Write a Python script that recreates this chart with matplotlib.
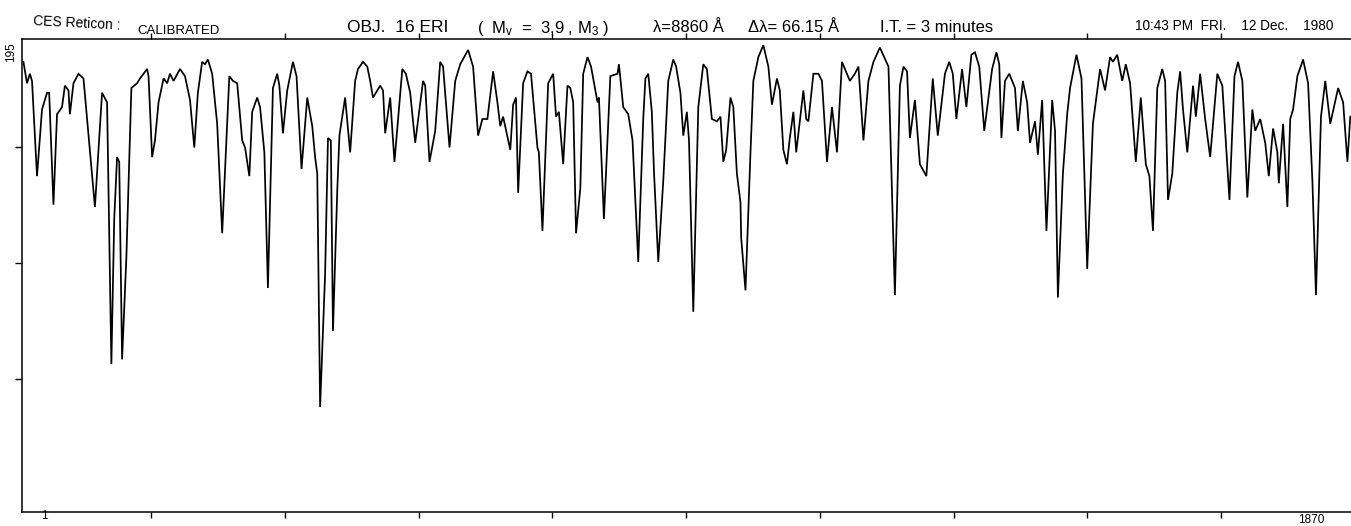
import matplotlib
matplotlib.use("Agg")
import matplotlib.pyplot as plt
import numpy as np

plt.rcParams["font.family"] = ["Liberation Sans", "DejaVu Sans"]
plt.rcParams["mathtext.fontset"] = "custom"
plt.rcParams["mathtext.rm"] = "Liberation Sans"
plt.rcParams["mathtext.it"] = "Liberation Sans"

# detector channel (1..1870) and calibrated counts
channel = [
    8, 13, 17, 20, 27, 34, 41, 44, 50, 55, 62, 66, 71, 73, 78, 85, 92, 97, 108, 118,
    125, 131, 135, 139, 142, 146, 152, 159, 167, 171, 176, 181, 183, 188, 192, 197, 204, 209, 213, 218,
    227, 234, 241, 247, 252, 258, 262, 266, 272, 279, 286, 293, 296, 301, 307, 314, 318, 324, 328, 335,
    339, 345, 350, 357, 363, 366, 371, 377, 385, 390, 397, 402, 405, 412, 416, 419, 423, 430, 434, 438,
    441, 447, 450, 458, 465, 472, 476, 483, 489, 493, 497, 503, 507, 511, 514, 521, 527, 538, 543, 549,
    556, 567, 570, 576, 584, 591, 595, 604, 612, 619, 630, 637, 644, 650, 657, 665, 671, 675, 679, 689,
    693, 697, 700, 707, 713, 718, 727, 729, 734, 742, 749, 753, 757, 763, 769, 773, 777, 781, 787, 791,
    797, 802, 811, 813, 820, 829, 839, 841, 847, 854, 860, 868, 875, 878, 882, 887, 890, 896, 903, 910,
    917, 921, 927, 931, 936, 939, 945, 952, 959, 964, 971, 978, 983, 987, 991, 997, 1001, 1006, 1011, 1012,
    1018, 1025, 1029, 1036, 1043, 1050, 1055, 1062, 1066, 1071, 1076, 1080, 1085, 1089, 1099, 1103, 1106, 1113, 1120, 1125,
    1132, 1139, 1146, 1153, 1164, 1171, 1176, 1183, 1190, 1197, 1206, 1218, 1227, 1234, 1239, 1244, 1248, 1255, 1262, 1271,
    1280, 1287, 1297, 1303, 1308, 1313, 1321, 1327, 1334, 1339, 1345, 1352, 1363, 1369, 1373, 1376, 1381, 1387, 1395, 1399,
    1406, 1412, 1416, 1423, 1427, 1433, 1439, 1447, 1451, 1455, 1462, 1468, 1472, 1481, 1488, 1490, 1496, 1504, 1514, 1521,
    1528, 1532, 1538, 1545, 1550, 1556, 1564, 1571, 1578, 1583, 1588, 1594, 1601, 1605, 1609, 1615, 1622, 1626, 1630, 1636,
    1644, 1648, 1654, 1661, 1668, 1678, 1685, 1695, 1702, 1707, 1713, 1720, 1727, 1731, 1738, 1745, 1750, 1756, 1762, 1764,
    1770, 1776, 1780, 1784, 1790, 1798, 1805, 1811, 1816, 1823, 1829, 1836, 1847, 1854, 1860, 1864,
]
counts = [
    182, 173, 177, 174, 134, 162, 169, 169, 122, 160, 163, 172, 170, 160, 173, 177, 175, 158, 121, 169,
    165, 55, 116, 142, 140, 57, 100, 171, 173, 175, 177, 179, 176, 142, 149, 165, 175, 173, 177, 174,
    179, 176, 166, 146, 169, 182, 181, 183, 177, 156, 110, 156, 176, 174, 173, 149, 146, 134, 161, 167,
    163, 144, 87, 171, 177, 172, 152, 170, 182, 176, 137, 156, 167, 155, 142, 135, 37, 93, 150, 149,
    69, 128, 151, 167, 144, 174, 179, 182, 180, 174, 167, 170, 172, 170, 152, 167, 140, 179, 177, 169,
    148, 174, 172, 140, 153, 182, 180, 146, 174, 181, 187, 180, 151, 158, 158, 178, 165, 155, 159, 145,
    164, 167, 127, 173, 178, 177, 146, 144, 111, 173, 177, 159, 161, 139, 172, 171, 165, 110, 129, 177,
    184, 180, 165, 167, 116, 176, 177, 181, 163, 160, 149, 98, 158, 175, 177, 161, 136, 98, 132, 174,
    183, 180, 169, 151, 161, 149, 77, 163, 181, 179, 158, 157, 159, 140, 145, 167, 163, 135, 123, 108,
    86, 144, 174, 184, 189, 180, 164, 175, 170, 145, 139, 150, 161, 144, 170, 158, 157, 177, 177, 174,
    140, 163, 144, 182, 174, 177, 180, 149, 174, 182, 188, 180, 84, 172, 180, 178, 150, 166, 139, 134,
    175, 151, 177, 182, 177, 158, 179, 163, 185, 186, 180, 153, 179, 186, 181, 150, 174, 177, 171, 153,
    174, 165, 148, 157, 143, 166, 111, 166, 153, 83, 135, 160, 171, 185, 175, 155, 95, 156, 179, 170,
    184, 182, 185, 174, 181, 173, 140, 167, 139, 134, 111, 171, 179, 174, 124, 135, 169, 178, 162, 144,
    172, 159, 177, 158, 142, 177, 172, 124, 176, 182, 174, 125, 162, 153, 158, 148, 134, 154, 144, 131,
    156, 121, 158, 162, 176, 183, 173, 132, 84, 159, 174, 156, 171, 165, 140, 159,
]

n_channels = 1870
y_top = 195
grid_ticks = [187 * k for k in range(1, 10)]
y_ticks = [y_top * k / 4 for k in range(1, 4)]

fig = plt.figure(figsize=(13.51, 5.26), dpi=100)
ax = fig.add_axes([22 / 1351, 1 - 512 / 526, 1 - 22 / 1351, (512 - 39) / 526])

ax.plot(channel, counts, color="black", lw=1.25, solid_joinstyle="miter")
ax.set_xlim(6, 1865)
ax.set_ylim(-7.1, 191.6)

for side in ("left", "top", "bottom"):
    ax.spines[side].set_linewidth(1.1)
ax.spines["right"].set_visible(False)

ax.set_xticks(grid_ticks)
ax.set_yticks(y_ticks)
ax.tick_params(axis="x", which="both", top=True, bottom=True, direction="out",
               length=4.5, width=1, labelbottom=False, labeltop=False)
ax.tick_params(axis="y", direction="out", length=5, width=1, labelleft=False)


def ftext(x, y, s, size, **kw):
    fig.text(x / 1351, 1 - y / 526, s, fontsize=size, ha="left", va="center", **kw)


ftext(33, 23, "CES Reticon :", 10, rotation=-3)
ftext(137, 31, "CALIBRATED", 9.5)
ftext(347, 27, "OBJ.  16 ERI", 12.5)
ftext(477, 28, r"(  M$_\mathrm{v}$  =  3,9 , M$_3$ )", 12)
ftext(653, 27, "λ=8860 Å", 12)
ftext(748, 27, "Δλ= 66.15 Å", 12)
ftext(880, 27, "I.T. = 3 minutes", 12)
ftext(1135, 26, "10:43 PM  FRI.    12 Dec.    1980", 9.8)

ftext(5, 52, "195", 8.5, rotation=90)
ftext(41, 516, "1", 8.5)
ftext(1298, 520, str(n_channels), 8.5)

fig.savefig("out.png", dpi=100, facecolor="white")
